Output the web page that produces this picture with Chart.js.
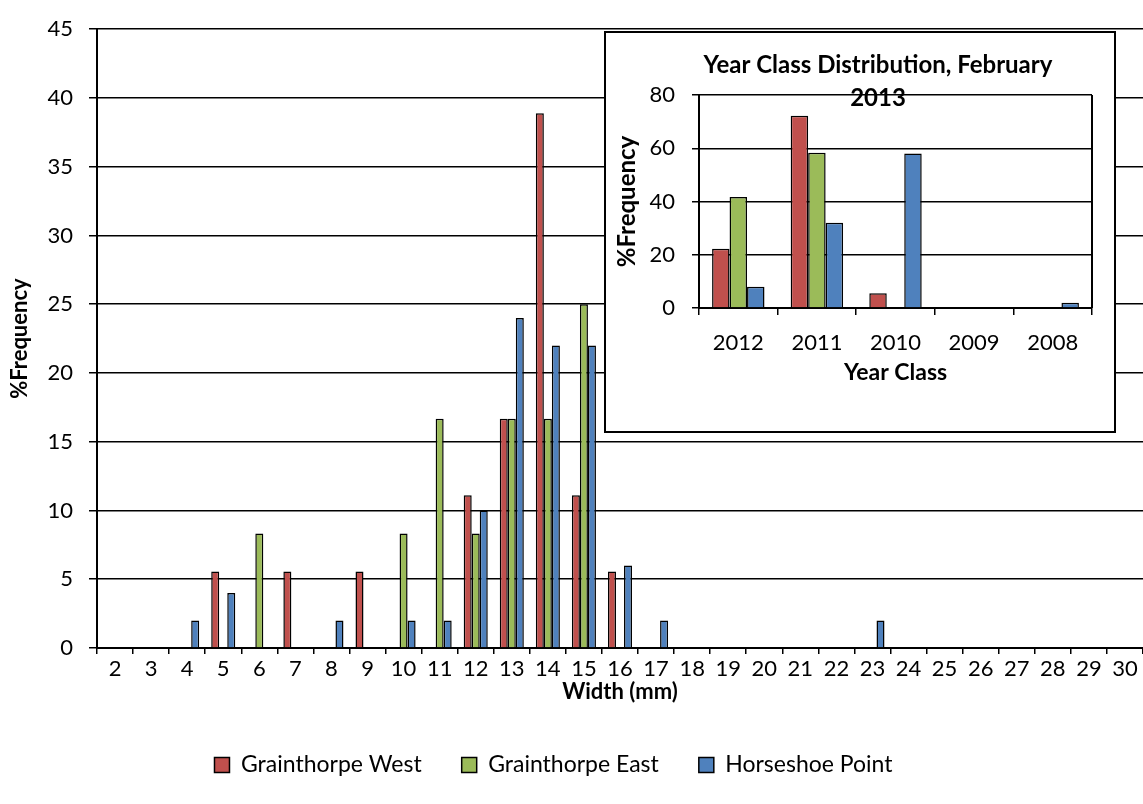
<!DOCTYPE html>
<html>
<head>
<meta charset="utf-8">
<script src="https://cdn.jsdelivr.net/npm/chart.js@4"></script>
<style>
  body { margin: 0; background: #fff; }
  #wrap { position: relative; width: 1143px; height: 804px; }
  #insetBox { position: absolute; left: 604px; top: 31px; width: 508px; height: 398px;
              border: 2px solid #000; background: #fff; }
  canvas { display: block; }
</style>
</head>
<body>
<div id="wrap">
  <canvas id="mainChart" width="1143" height="804"></canvas>
  <div id="insetBox"><canvas id="yearChart" width="508" height="398"></canvas></div>
</div>
<script>
// width classes (mm)
const widths = ["2","3","4","5","6","7","8","9","10","11","12","13","14","15","16",
                "17","18","19","20","21","22","23","24","25","26","27","28","29","30"];
const westFreq  = [0,0,0,5.56,0,5.56,0,5.56,0,0,11.11,16.67,38.89,11.11,5.56,0,0,0,0,0,0,0,0,0,0,0,0,0,0];
const eastFreq  = [0,0,0,0,8.33,0,0,0,8.33,16.67,8.33,16.67,16.67,25,0,0,0,0,0,0,0,0,0,0,0,0,0,0,0];
const shoeFreq  = [0,0,2,4,0,0,2,0,2,2,10,24,22,22,6,2,0,0,0,0,0,2,0,0,0,0,0,0,0];

// year class inset
const years     = ["2012","2011","2010","2009","2008"];
const westYear  = [22.22,72.22,5.56,0,0];
const eastYear  = [41.67,58.33,0,0,0];
const shoeYear  = [8,32,58,0,2];

const seriesNames = ["Grainthorpe West","Grainthorpe East","Horseshoe Point"];
const colors = ["#C0504D","#9BBB59","#4F81BD"];

Chart.defaults.font.family = "Lato, 'Open Sans', sans-serif";
Chart.defaults.color = "#000";
Chart.defaults.animation = false;

function makeSets(lists) {
  return lists.map((d, i) => ({
    label: seriesNames[i],
    data: d,
    backgroundColor: colors[i],
    borderColor: "#000",
    borderWidth: 1.5,
    borderSkipped: "bottom",
    categoryPercentage: 0.667,
    barPercentage: 1
  }));
}

// nudge the legend a little left, like the original
const legendShift = {
  id: "legendShift",
  afterLayout(chart) {
    chart.legend.right -= 36;
  }
};

new Chart(document.getElementById("mainChart"), {
  type: "bar",
  data: { labels: widths, datasets: makeSets([westFreq, eastFreq, shoeFreq]) },
  options: {
    responsive: false,
    devicePixelRatio: 1,
    layout: { padding: { top: 27, left: 0, right: 0, bottom: 17.5 } },
    plugins: {
      legend: {
        position: "bottom",
        labels: { boxWidth: 15, boxHeight: 15, padding: 40, font: { size: 23 } }
      },
      tooltip: { enabled: false }
    },
    scales: {
      x: {
        grid: { display: true, drawOnChartArea: false, drawTicks: true, tickLength: 6,
                color: "#000", lineWidth: 1.5 },
        border: { color: "#000", width: 2 },
        ticks: { font: { size: 22 }, padding: 2, maxRotation: 0, autoSkip: false },
        title: { display: true, text: "Width (mm)", font: { size: 22, weight: "bold" },
                 padding: { top: 0, bottom: 8 } },
        afterFit: (s) => { s.height = 65.5; }
      },
      y: {
        min: 0, max: 45,
        ticks: { stepSize: 5, font: { size: 22 }, padding: 16 },
        grid: { color: "#000", lineWidth: 1.5, tickLength: 8 },
        border: { color: "#000", width: 2 },
        title: { display: true, text: "%Frequency", font: { size: 22, weight: "bold" },
                 padding: { top: 7, bottom: 0 } },
        afterFit: (s) => { s.width = 97; }
      }
    }
  },
  plugins: [legendShift]
});

const insetExtras = {
  id: "insetExtras",
  afterDraw(chart) {
    const { ctx, chartArea } = chart;
    ctx.save();
    ctx.strokeStyle = "#000";
    ctx.lineWidth = 2;
    ctx.beginPath();
    ctx.moveTo(chartArea.right, chartArea.top);
    ctx.lineTo(chartArea.right, chartArea.bottom);
    ctx.stroke();
    ctx.fillStyle = "#000";
    ctx.font = "bold 24px Lato, 'Open Sans', sans-serif";
    ctx.textAlign = "center";
    ctx.textBaseline = "middle";
    ctx.fillText("Year Class Distribution, February", 272, 32);
    ctx.fillText("2013", 272, 65);
    ctx.restore();
  }
};

new Chart(document.getElementById("yearChart"), {
  type: "bar",
  data: { labels: years, datasets: makeSets([westYear, eastYear, shoeYear]) },
  options: {
    responsive: false,
    devicePixelRatio: 1,
    layout: { padding: { top: 62, left: 0, right: 22, bottom: 0 } },
    plugins: { legend: { display: false }, tooltip: { enabled: false } },
    scales: {
      x: {
        grid: { display: true, drawOnChartArea: false, drawTicks: true, tickLength: 7,
                color: "#000", lineWidth: 1.5 },
        border: { color: "#000", width: 2 },
        ticks: { font: { size: 22 }, padding: 15, maxRotation: 0 },
        title: { display: true, text: "Year Class", font: { size: 23, weight: "bold" },
                 padding: { top: 0, bottom: 45 } },
        afterFit: (s) => { s.height = 123; }
      },
      y: {
        min: 0, max: 80,
        ticks: { stepSize: 20, font: { size: 22 }, padding: 17 },
        grid: { color: "#000", lineWidth: 1.5, tickLength: 7 },
        border: { color: "#000", width: 2 },
        title: { display: true, text: "%Frequency", font: { size: 24, weight: "bold" },
                 padding: { top: 7, bottom: 0 } },
        afterFit: (s) => { s.width = 93; }
      }
    }
  },
  plugins: [insetExtras]
});
</script>
</body>
</html>
